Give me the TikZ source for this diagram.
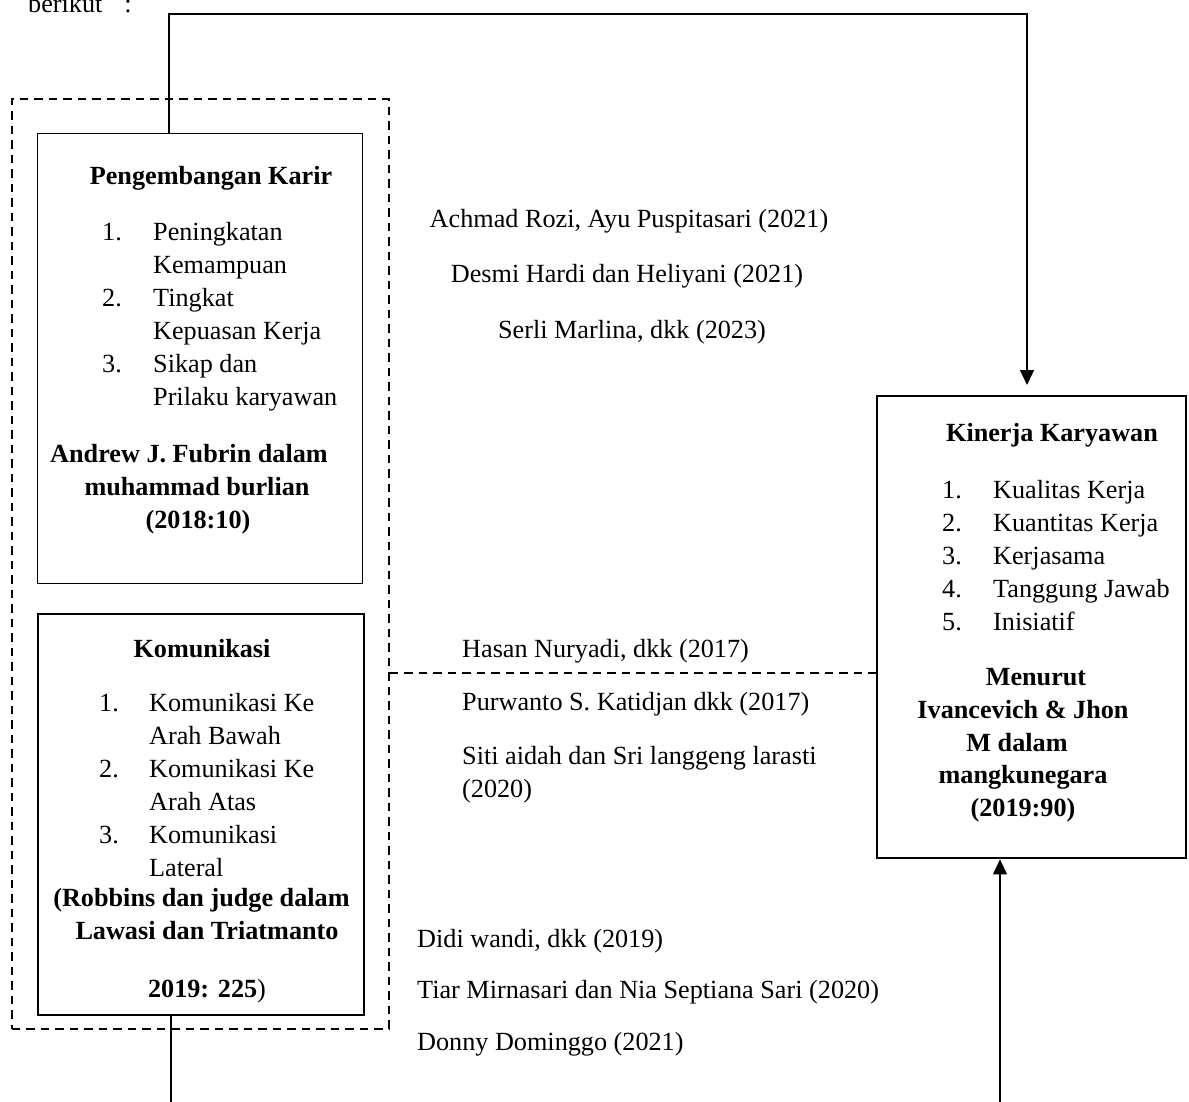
\documentclass[tikz,border=0pt]{standalone}
\usepackage{fontspec}
\setmainfont{Liberation Serif}
\usetikzlibrary{arrows.meta}

\begin{document}
\begin{tikzpicture}[x=1pt, y=-1pt,
    >={Triangle[length=15pt,width=14pt]},
    conn/.style={line width=1.3pt},
    thinbox/.style={draw, line width=1.3pt, anchor=north west, inner sep=0pt},
    thickbox/.style={draw, line width=2.4pt, anchor=north west, inner sep=0pt},
    dashbox/.style={draw, line width=1.8pt, dash pattern=on 8.5pt off 6pt, anchor=north west, inner sep=0pt},
    txt/.style={inner sep=0pt, font=\fontsize{26.2}{33}\selectfont},
    bld/.style={inner sep=0pt, font=\fontsize{26.2}{33}\selectfont\bfseries}]
    \useasboundingbox (0,0) rectangle (1189,1102);

    % Intro text (cut at the top)
    \node[txt, anchor=base west] (intro) at (28,13) {berikut\hspace{22pt}:};

    % Dashed group round the two left boxes
    \node[dashbox, minimum width=377pt, minimum height=930pt] (group) at (11,98) {};

    % Left boxes and right box
    \node[thinbox, minimum width=325pt, minimum height=450pt] (karir) at (37,133) {};
    \node[thickbox, minimum width=326pt, minimum height=401pt] (komunikasi) at (37,613) {};
    \node[thickbox, minimum width=309pt, minimum height=462pt] (kinerja) at (876,395) {};

    % Pengembangan Karir
    \node[bld, anchor=base] (karir-title) at (211,185) {Pengembangan Karir};
    \node[txt, anchor=base west] (karir-list) at (102,240.5) {\begin{tabular}[t]{@{}p{51pt}@{}l@{}}
        1. & Peningkatan\\ & Kemampuan\\ 2. & Tingkat\\ & Kepuasan Kerja\\ 3. & Sikap dan\\ & Prilaku karyawan
    \end{tabular}};
    \node[bld, anchor=base] (karir-ref1) at (189,462) {Andrew J. Fubrin dalam};
    \node[bld, anchor=base] (karir-ref2) at (197,495) {muhammad burlian};
    \node[bld, anchor=base] (karir-ref3) at (198,528) {(2018:10)};

    % Komunikasi
    \node[bld, anchor=base] (kom-title) at (202,657) {Komunikasi};
    \node[txt, anchor=base west] (kom-list) at (99,711.5) {\begin{tabular}[t]{@{}p{50pt}@{}l@{}}
        1. & Komunikasi Ke\\ & Arah Bawah\\ 2. & Komunikasi Ke\\ & Arah Atas\\ 3. & Komunikasi\\ & Lateral
    \end{tabular}};
    \node[bld, anchor=base] (kom-ref1) at (201.5,906) {(Robbins dan judge dalam};
    \node[bld, anchor=base] (kom-ref2) at (207,939) {Lawasi dan Triatmanto};
    \node[txt, anchor=base] (kom-ref3) at (207,997) {\textbf{2019: 225})};

    % Kinerja Karyawan
    \node[bld, anchor=base] (kin-title) at (1052,441.5) {Kinerja Karyawan};
    \node[txt, anchor=base west] (kin-list) at (942,498) {\begin{tabular}[t]{@{}p{51pt}@{}l@{}}
        1. & Kualitas Kerja\\ 2. & Kuantitas Kerja\\ 3. & Kerjasama\\ 4. & Tanggung Jawab\\ 5. & Inisiatif
    \end{tabular}};
    \node[bld, anchor=base] (kin-ref1) at (1036,685) {Menurut};
    \node[bld, anchor=base] (kin-ref2) at (1023,718) {Ivancevich \& Jhon};
    \node[bld, anchor=base] (kin-ref3) at (1017,751) {M dalam};
    \node[bld, anchor=base] (kin-ref4) at (1023,783) {mangkunegara};
    \node[bld, anchor=base] (kin-ref5) at (1023,816) {(2019:90)};

    % Sources beside the connectors
    \node[txt, anchor=base] (src1) at (629,228) {Achmad Rozi, Ayu Puspitasari (2021)};
    \node[txt, anchor=base] (src2) at (627,283) {Desmi Hardi dan Heliyani (2021)};
    \node[txt, anchor=base] (src3) at (632,338) {Serli Marlina, dkk (2023)};
    \node[txt, anchor=base west] (src4) at (462,657) {Hasan Nuryadi, dkk (2017)};
    \node[txt, anchor=base west] (src5) at (462,710) {Purwanto S. Katidjan dkk (2017)};
    \node[txt, anchor=base west] (src6) at (462,764) {Siti aidah dan Sri langgeng larasti};
    \node[txt, anchor=base west] (src6b) at (462,797) {(2020)};
    \node[txt, anchor=base west] (src7) at (417,947) {Didi wandi, dkk (2019)};
    \node[txt, anchor=base west] (src8) at (417,998) {Tiar Mirnasari dan Nia Septiana Sari (2020)};
    \node[txt, anchor=base west] (src9) at (417,1050) {Donny Dominggo (2021)};

    % Connectors
    \coordinate (tl) at (169,14);
    \coordinate (tr) at (1027,14);
    \coordinate (dl) at (0,673);
    \coordinate (bl) at (171,1102);
    \coordinate (br) at (1000,1102);
    \draw[conn, ->, shorten >=10pt] (karir.north -| tl) |- (tr) -- (kinerja.north -| tr);
    \draw[line width=1.8pt, dash pattern=on 8.5pt off 6pt] (group.east |- dl) -- (kinerja.west |- dl);
    \draw[conn] (komunikasi.south -| bl) -- (bl);
    \draw[conn, ->] (br) -- (kinerja.south -| br);

\end{tikzpicture}
\end{document}
